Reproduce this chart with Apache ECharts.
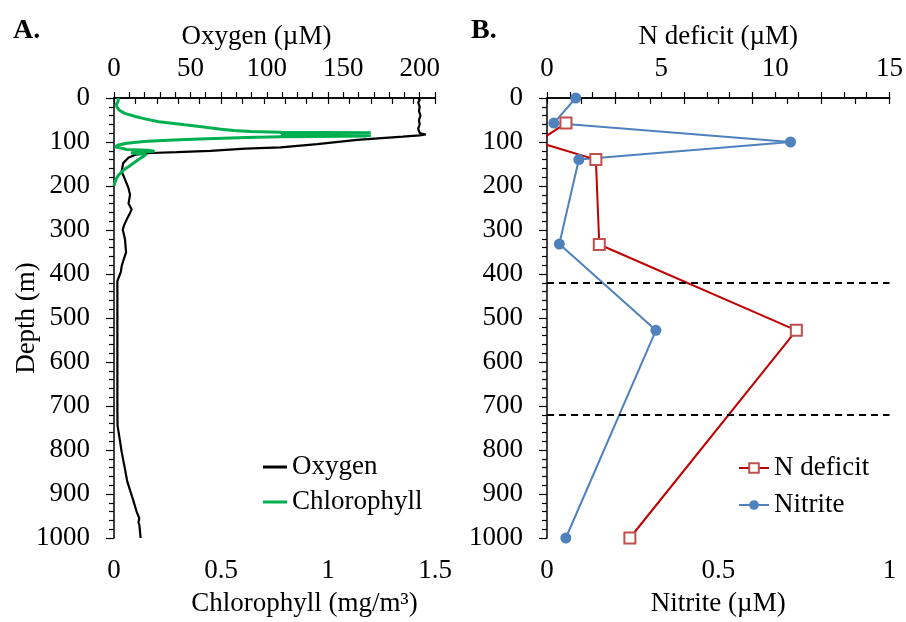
<!DOCTYPE html>
<html>
<head>
<meta charset="utf-8">
<script src="https://cdn.jsdelivr.net/npm/echarts@6/dist/echarts.min.js"></script>
<style>
  html, body { margin: 0; padding: 0; background: #fff; }
  #chart { width: 906px; height: 622px; }
</style>
</head>
<body>
<div id="chart"></div>
<script>
// Panel A: CTD profiles (depth in m)
const oxygenDepth = [0, 5, 10, 20, 30, 40, 50, 60, 70, 80, 83, 85, 88, 95, 105, 112, 115, 120, 123, 125, 129, 136, 148, 167, 185, 204, 220, 240, 253, 265, 276, 290, 299, 321, 335, 351, 365, 382, 395, 404, 416, 500, 600, 700, 744, 770, 804, 840, 872, 910, 940, 955, 965, 970, 985, 1000];
const oxygenValue = [199, 200, 199, 200, 199.5, 200.5, 199.5, 200, 199, 200, 204, 200, 189, 159, 133, 109, 86, 63, 41, 24, 14, 9.4, 6, 5, 7.2, 9.4, 10.5, 9.5, 11.5, 10, 8.3, 6.5, 5.7, 7.2, 7.5, 7.9, 6.5, 5, 4.5, 3.5, 2.2, 2.2, 2.2, 2.2, 2.3, 3.5, 5, 7, 8.7, 12.2, 14.8, 16.5, 16, 16.6, 17, 17.4];

const chlDepth = [0, 6, 14, 20, 28, 35, 42, 48, 54, 61, 66, 71, 74, 76, 78, 79, 80, 81, 82, 83, 84, 85, 86, 87, 88, 90, 93, 96, 99, 103, 107, 111, 114, 117, 119, 121, 123, 125, 128, 132, 138, 145, 152, 160, 168, 176, 184, 192, 200];
const chlValue = [0.02, 0.02, 0.012, 0.013, 0.025, 0.05, 0.1, 0.15, 0.21, 0.33, 0.42, 0.5, 0.56, 0.64, 0.78, 1.2, 0.85, 1.2, 0.8, 1.19, 0.78, 1.2, 0.85, 1.18, 0.78, 0.62, 0.4, 0.25, 0.14, 0.06, 0.02, 0.005, 0.003, 0.06, 0.16, 0.19, 0.12, 0.08, 0.15, 0.14, 0.12, 0.1, 0.08, 0.055, 0.035, 0.02, 0.01, 0.004, 0];

// Panel B: bottle samples
const nitriteDepth = [0, 57, 100, 140, 332, 528, 1000];
const nitriteValue = [0.084, 0.02, 0.711, 0.093, 0.036, 0.318, 0.055];
const ndefDepth = [57, 100, 140, 333, 528, 1000];
const ndefValue = [0.83, -0.42, 2.14, 2.29, 10.92, 3.63];

const oxyBounds = [420, 720]; // dashed lines

const FONT = "Liberation Serif";
const txt = { color: "#000", fontFamily: FONT, fontSize: 27 };

const pairs = (xs, ys) => xs.map((x, i) => [x, ys[i]]);
const every = (step) => (v) => {
    const r = v / step;
    return Math.abs(r - Math.round(r)) < 1e-6 ? String(+v.toFixed(2)) : "";
};

function xAxis(grid, pos, min, max, interval, labelStep, name, nameGap, margin, namePad) {
    return {
        type: "value", gridIndex: grid, position: pos, min, max, interval,
        name, nameLocation: "middle", nameGap,
        nameTextStyle: { ...txt, padding: namePad || 0 },
        axisLine: { show: true, lineStyle: { color: "#000", width: 1.5 } },
        axisTick: { show: true, length: 6, lineStyle: { color: "#000", width: 1.2 } },
        axisLabel: { ...txt, margin, formatter: every(labelStep) },
        splitLine: { show: false },
    };
}

function yAxis(grid, name) {
    return {
        type: "value", gridIndex: grid, inverse: true, min: 0, max: 1000, interval: 100,
        name, nameLocation: "middle", nameGap: 74, nameMoveOverlap: false, nameTextStyle: txt,
        axisLine: { show: true, lineStyle: { color: "#000", width: 1.5 } },
        axisTick: { show: true, length: 8, lineStyle: { color: "#000", width: 1.2 } },
        minorTick: { show: true, splitNumber: 5, length: 5, lineStyle: { color: "#000", width: 1.2 } },
        axisLabel: { ...txt, margin: 24, formatter: (v) => String(v) },
        splitLine: { show: false },
    };
}

const chart = echarts.init(document.getElementById("chart"));

const option = {
    backgroundColor: "#fff",
    animation: false,
    title: [
        { text: "A.", left: 8, top: 12, textStyle: { ...txt, fontSize: 28, fontWeight: "bold" } },
        { text: "B.", left: 466, top: 12, textStyle: { ...txt, fontSize: 28, fontWeight: "bold" } },
    ],
    legend: [
        {
            data: [{ name: "Oxygen", icon: "rect" }, { name: "Chlorophyll", icon: "rect" }],
            orient: "vertical", left: 258, top: 447,
            itemWidth: 24, itemHeight: 3, itemGap: 5,
            textStyle: { ...txt, lineHeight: 30 },
        },
        {
            data: ["N deficit", "Nitrite"], orient: "vertical", left: 733, top: 448,
            itemWidth: 30, itemHeight: 12, itemGap: 7,
            textStyle: { ...txt, lineHeight: 30 },
        },
    ],
    grid: [
        { left: 114, top: 98, width: 321, height: 442 },
        { left: 547, top: 98, width: 343, height: 442 },
    ],
    xAxis: [
        xAxis(0, "bottom", 0, 1.5, 0.1, 0.5, "Chlorophyll (mg/m³)", 52, 19, [0, 0, 0, 60]),
        xAxis(0, "top", 0, 210, 10, 50, "Oxygen (µM)", 46, 16, [0, 36, 0, 0]),
        xAxis(1, "bottom", 0, 1, 0.1, 0.5, "Nitrite (µM)", 52, 19),
        xAxis(1, "top", 0, 15, 1, 5, "N deficit (µM)", 46, 16),
    ],
    yAxis: [yAxis(0, "Depth (m)"), yAxis(1, "")],
    series: [
        {
            name: "Oxygen", type: "line", xAxisIndex: 1, yAxisIndex: 0,
            data: pairs(oxygenValue, oxygenDepth), symbol: "none",
            lineStyle: { color: "#000", width: 2.2 }, itemStyle: { color: "#000" },
        },
        {
            name: "Chlorophyll", type: "line", xAxisIndex: 0, yAxisIndex: 0,
            data: pairs(chlValue, chlDepth), symbol: "none",
            lineStyle: { color: "#00b050", width: 3 }, itemStyle: { color: "#00b050" },
        },
        {
            name: "Nitrite", type: "line", xAxisIndex: 2, yAxisIndex: 1,
            data: pairs(nitriteValue, nitriteDepth), symbol: "circle", symbolSize: 11,
            lineStyle: { color: "#4f81bd", width: 2 }, itemStyle: { color: "#4f81bd" },
            markLine: {
                silent: true, symbol: "none", label: { show: false },
                lineStyle: { color: "#000", type: [7, 5], width: 2 },
                data: oxyBounds.map((d) => ({ yAxis: d })),
            },
        },
        {
            name: "N deficit", type: "line", xAxisIndex: 3, yAxisIndex: 1,
            data: pairs(ndefValue, ndefDepth), symbol: "rect", symbolSize: 11,
            lineStyle: { color: "#c00000", width: 2 },
            itemStyle: { color: "#fff", borderColor: "#c0504d", borderWidth: 2 },
        },
    ],
};

chart.setOption(option);
</script>
</body>
</html>
